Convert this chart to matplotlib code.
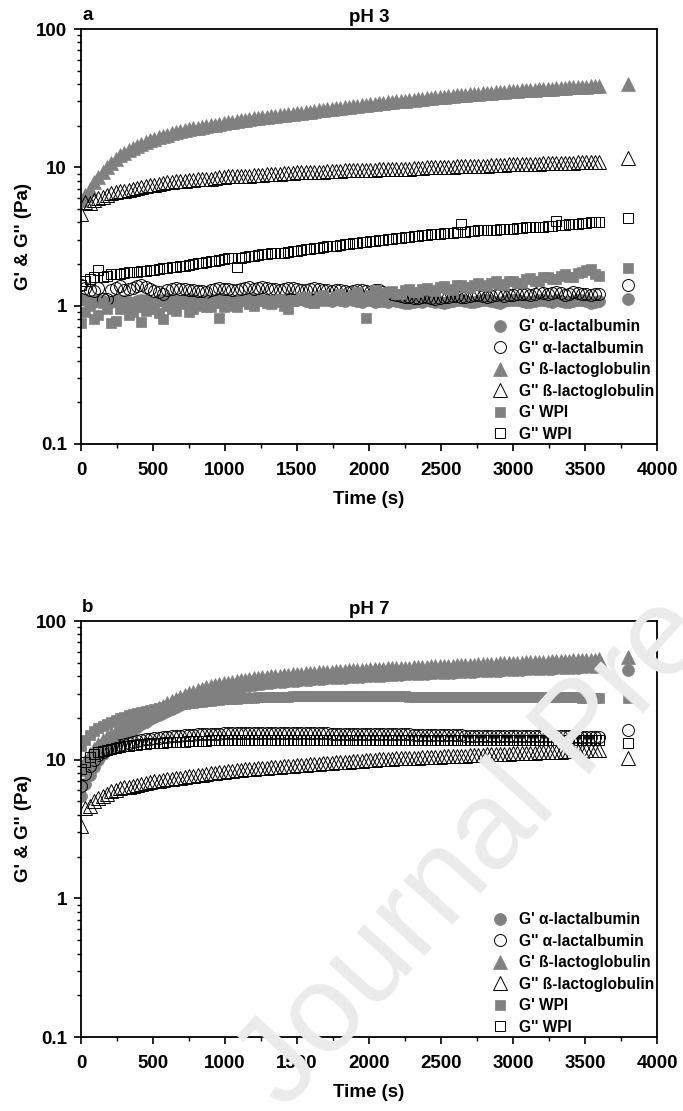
import matplotlib
matplotlib.use('Agg')
import matplotlib.pyplot as plt
from matplotlib.ticker import MultipleLocator, FixedLocator, FixedFormatter, LogLocator, NullFormatter

plt.rcParams['font.family'] = ['Liberation Sans', 'DejaVu Sans']
plt.rcParams['font.weight'] = 'bold'

# ---------------- data ----------------
time_s = [0, 30, 60, 90, 120, 150, 180, 210, 240, 270,
          300, 330, 360, 390, 420, 450, 480, 510, 540, 570,
          600, 630, 660, 690, 720, 750, 780, 810, 840, 870,
          900, 930, 960, 990, 1020, 1050, 1080, 1110, 1140, 1170,
          1200, 1230, 1260, 1290, 1320, 1350, 1380, 1410, 1440, 1470,
          1500, 1530, 1560, 1590, 1620, 1650, 1680, 1710, 1740, 1770,
          1800, 1830, 1860, 1890, 1920, 1950, 1980, 2010, 2040, 2070,
          2100, 2130, 2160, 2190, 2220, 2250, 2280, 2310, 2340, 2370,
          2400, 2430, 2460, 2490, 2520, 2550, 2580, 2610, 2640, 2670,
          2700, 2730, 2760, 2790, 2820, 2850, 2880, 2910, 2940, 2970,
          3000, 3030, 3060, 3090, 3120, 3150, 3180, 3210, 3240, 3270,
          3300, 3330, 3360, 3390, 3420, 3450, 3480, 3510, 3540, 3570,
          3600]
end_time = 3800

series_labels = ["G' α-lactalbumin", "G'' α-lactalbumin", "G' ß-lactoglobulin",
                 "G'' ß-lactoglobulin", "G' WPI", "G'' WPI"]

# ---- pH 3 (panel a) ----
a_Gp_alac = [1.12, 1.10, 1.08, 1.06, 1.10, 1.08, 1.05, 1.07, 1.10, 1.08,
             1.08, 1.06, 1.05, 1.08, 1.10, 1.09, 1.07, 1.05, 1.10, 1.08,
             1.12, 1.10, 1.08, 1.06, 1.10, 1.12, 1.09, 1.07, 1.08, 1.10,
             1.10, 1.08, 1.12, 1.10, 1.10, 1.07, 1.08, 1.10, 1.10, 1.12,
             1.12, 1.10, 1.10, 1.08, 1.08, 1.06, 1.10, 1.09, 1.12, 1.10,
             1.10, 1.12, 1.08, 1.06, 1.12, 1.10, 1.10, 1.09, 1.08, 1.11,
             1.10, 1.08, 1.12, 1.10, 1.08, 1.07, 1.10, 1.09, 1.06, 1.08,
             1.08, 1.06, 1.10, 1.08, 1.07, 1.05, 1.05, 1.07, 1.08, 1.06,
             1.10, 1.08, 1.07, 1.06, 1.05, 1.07, 1.08, 1.10, 1.10, 1.08,
             1.06, 1.07, 1.08, 1.09, 1.10, 1.08, 1.07, 1.05, 1.08, 1.10,
             1.10, 1.09, 1.08, 1.07, 1.06, 1.08, 1.10, 1.09, 1.08, 1.07,
             1.10, 1.08, 1.07, 1.06, 1.08, 1.10, 1.09, 1.08, 1.05, 1.06,
             1.08]
a_Gpp_alac = [1.40, 1.35, 1.30, 1.28, 1.35, 1.12, 1.12, 1.30, 1.35, 1.38,
              1.30, 1.32, 1.35, 1.38, 1.40, 1.36, 1.32, 1.28, 1.25, 1.22,
              1.30, 1.32, 1.35, 1.33, 1.32, 1.30, 1.30, 1.28, 1.28, 1.25,
              1.30, 1.32, 1.35, 1.33, 1.32, 1.30, 1.30, 1.33, 1.35, 1.36,
              1.32, 1.34, 1.36, 1.35, 1.33, 1.31, 1.30, 1.32, 1.35, 1.34,
              1.32, 1.30, 1.30, 1.32, 1.34, 1.32, 1.30, 1.29, 1.28, 1.30,
              1.30, 1.28, 1.26, 1.28, 1.30, 1.30, 1.28, 1.26, 1.30, 1.29,
              1.25, 1.23, 1.22, 1.20, 1.18, 1.15, 1.15, 1.13, 1.13, 1.15,
              1.15, 1.14, 1.12, 1.13, 1.15, 1.16, 1.18, 1.17, 1.15, 1.16,
              1.18, 1.19, 1.20, 1.18, 1.15, 1.17, 1.20, 1.21, 1.18, 1.20,
              1.20, 1.21, 1.22, 1.21, 1.20, 1.22, 1.25, 1.23, 1.22, 1.24,
              1.25, 1.23, 1.20, 1.22, 1.25, 1.24, 1.22, 1.21, 1.20, 1.21,
              1.22]
a_Gp_blg = [5.8, 6.3, 7.0, 7.8, 8.5, 9.3, 10.0, 10.8, 11.5, 12.2,
            12.8, 13.3, 13.8, 14.3, 14.8, 15.3, 15.7, 16.1, 16.5, 16.9,
            17.2, 17.6, 17.9, 18.2, 18.5, 18.8, 19.1, 19.4, 19.7, 19.9,
            20.2, 20.4, 20.7, 20.9, 21.2, 21.4, 21.7, 21.9, 22.1, 22.4,
            22.6, 22.8, 23.0, 23.2, 23.4, 23.6, 23.8, 24.0, 24.2, 24.4,
            24.6, 24.8, 25.1, 25.3, 25.6, 25.8, 26.0, 26.2, 26.5, 26.7,
            27.0, 27.2, 27.4, 27.6, 27.9, 28.1, 28.3, 28.5, 28.8, 29.0,
            29.3, 29.5, 29.8, 30.0, 30.2, 30.4, 30.7, 30.9, 31.1, 31.3,
            31.6, 31.8, 32.0, 32.2, 32.5, 32.7, 32.9, 33.1, 33.3, 33.5,
            33.7, 33.9, 34.1, 34.3, 34.5, 34.7, 34.9, 35.1, 35.3, 35.5,
            35.7, 35.8, 36.0, 36.1, 36.3, 36.5, 36.7, 36.8, 37.0, 37.1,
            37.3, 37.5, 37.7, 37.8, 38.0, 38.1, 38.3, 38.4, 38.6, 38.7,
            38.9]
a_Gpp_blg = [4.6, 5.6, 5.5, 5.8, 6.0, 6.1, 6.3, 6.5, 6.6, 6.7,
             6.8, 6.9, 7.0, 7.1, 7.2, 7.3, 7.4, 7.5, 7.6, 7.7,
             7.8, 7.8, 7.9, 8.0, 8.0, 8.1, 8.1, 8.2, 8.2, 8.3,
             8.3, 8.4, 8.5, 8.5, 8.6, 8.6, 8.6, 8.7, 8.7, 8.7,
             8.8, 8.8, 8.8, 8.9, 8.9, 9.0, 9.0, 9.1, 9.1, 9.1,
             9.2, 9.2, 9.2, 9.3, 9.3, 9.3, 9.3, 9.4, 9.4, 9.4,
             9.4, 9.5, 9.5, 9.5, 9.5, 9.6, 9.6, 9.6, 9.6, 9.7,
             9.7, 9.7, 9.7, 9.8, 9.8, 9.8, 9.8, 9.9, 9.9, 9.9,
             10.0, 10.0, 10.0, 10.0, 10.1, 10.1, 10.1, 10.2, 10.2, 10.2,
             10.2, 10.3, 10.3, 10.3, 10.3, 10.4, 10.4, 10.4, 10.4, 10.5,
             10.5, 10.5, 10.5, 10.6, 10.6, 10.6, 10.6, 10.7, 10.7, 10.7,
             10.7, 10.8, 10.8, 10.8, 10.8, 10.9, 10.9, 10.9, 10.9, 11.0,
             11.0]
a_Gp_wpi = [0.75, 0.90, 1.00, 0.80, 0.85, 1.05, 0.95, 0.75, 0.78, 0.95,
            1.00, 0.85, 0.90, 0.98, 0.76, 0.92, 0.95, 1.02, 0.88, 0.80,
            1.00, 0.95, 0.92, 1.05, 1.02, 0.90, 0.95, 1.00, 1.05, 0.98,
            0.97, 1.05, 0.82, 0.98, 1.05, 1.00, 0.98, 1.08, 1.08, 1.02,
            1.00, 1.08, 1.10, 1.04, 1.03, 1.10, 1.12, 1.00, 0.95, 1.08,
            1.10, 1.14, 1.15, 1.08, 1.05, 1.15, 1.20, 1.12, 1.10, 1.18,
            1.22, 1.15, 1.12, 1.20, 1.25, 1.15, 0.82, 1.20, 1.30, 1.24,
            1.20, 1.26, 1.28, 1.22, 1.22, 1.30, 1.32, 1.26, 1.25, 1.32,
            1.35, 1.30, 1.28, 1.36, 1.38, 1.32, 1.30, 1.40, 1.42, 1.36,
            1.35, 1.42, 1.45, 1.40, 1.38, 1.46, 1.50, 1.44, 1.42, 1.50,
            1.52, 1.46, 1.45, 1.55, 1.58, 1.52, 1.50, 1.60, 1.62, 1.56,
            1.55, 1.65, 1.70, 1.62, 1.60, 1.72, 1.75, 1.80, 1.85, 1.70,
            1.65]
a_Gpp_wpi = [1.40, 1.50, 1.55, 1.60, 1.80, 1.62, 1.65, 1.68, 1.70, 1.70,
             1.72, 1.74, 1.75, 1.76, 1.78, 1.79, 1.80, 1.82, 1.85, 1.86,
             1.88, 1.89, 1.90, 1.92, 1.95, 1.97, 2.00, 2.02, 2.05, 2.08,
             2.10, 2.12, 2.15, 2.18, 2.20, 2.20, 1.90, 2.22, 2.25, 2.28,
             2.30, 2.32, 2.35, 2.38, 2.40, 2.40, 2.40, 2.42, 2.45, 2.48,
             2.50, 2.52, 2.55, 2.58, 2.60, 2.62, 2.65, 2.68, 2.70, 2.72,
             2.75, 2.78, 2.80, 2.82, 2.85, 2.88, 2.90, 2.92, 2.95, 2.98,
             3.00, 3.02, 3.05, 3.08, 3.10, 3.12, 3.15, 3.18, 3.20, 3.22,
             3.25, 3.28, 3.30, 3.32, 3.35, 3.35, 3.35, 3.38, 3.90, 3.42,
             3.45, 3.48, 3.50, 3.50, 3.50, 3.52, 3.55, 3.58, 3.60, 3.60,
             3.60, 3.62, 3.65, 3.68, 3.70, 3.70, 3.70, 3.72, 3.75, 3.78,
             4.10, 3.82, 3.85, 3.88, 3.90, 3.92, 3.95, 3.98, 4.00, 4.02,
             4.05]
a_end_values = [1.12, 1.41, 40.0, 11.7, 1.87, 4.3]

# ---- pH 7 (panel b) ----
b_Gp_alac = [5.5, 6.7, 7.8, 8.9, 10.0, 11.0, 12.0, 12.8, 13.5, 14.3,
             15.0, 15.8, 16.5, 17.3, 18.0, 18.8, 19.5, 20.3, 21.0, 21.8,
             22.5, 23.3, 24.0, 24.8, 25.5, 26.3, 27.0, 27.8, 28.5, 29.2,
             29.8, 30.4, 31.0, 31.5, 32.0, 32.5, 33.0, 33.4, 33.8, 34.2,
             34.5, 34.9, 35.2, 35.5, 35.8, 36.1, 36.3, 36.6, 36.8, 37.0,
             37.2, 37.4, 37.6, 37.8, 38.0, 38.2, 38.3, 38.5, 38.6, 38.8,
             38.9, 39.1, 39.2, 39.4, 39.5, 39.7, 39.8, 40.0, 40.1, 40.3,
             40.4, 40.6, 40.7, 40.9, 41.0, 41.2, 41.3, 41.4, 41.5, 41.7,
             41.8, 41.9, 42.0, 42.2, 42.3, 42.4, 42.5, 42.7, 42.8, 42.9,
             43.0, 43.2, 43.3, 43.4, 43.5, 43.7, 43.8, 43.9, 44.0, 44.2,
             44.3, 44.4, 44.5, 44.7, 44.8, 44.9, 45.0, 45.2, 45.3, 45.4,
             45.5, 45.7, 45.8, 45.9, 46.0, 46.2, 46.3, 46.4, 46.5, 46.7,
             46.8]
b_Gpp_alac = [6.5, 7.9, 9.0, 10.0, 10.8, 11.3, 11.8, 12.2, 12.5, 12.8,
              13.0, 13.2, 13.4, 13.6, 13.8, 14.0, 14.1, 14.3, 14.4, 14.5,
              14.6, 14.7, 14.8, 14.9, 15.0, 15.0, 15.1, 15.2, 15.2, 15.3,
              15.3, 15.4, 15.4, 15.5, 15.5, 15.5, 15.5, 15.5, 15.5, 15.6,
              15.6, 15.6, 15.6, 15.6, 15.6, 15.6, 15.6, 15.6, 15.5, 15.5,
              15.5, 15.5, 15.5, 15.5, 15.5, 15.5, 15.5, 15.5, 15.4, 15.4,
              15.4, 15.4, 15.4, 15.4, 15.4, 15.3, 15.3, 15.3, 15.3, 15.3,
              15.3, 15.3, 15.2, 15.2, 15.2, 15.2, 15.2, 15.1, 15.1, 15.1,
              15.1, 15.1, 15.1, 15.0, 15.0, 15.0, 15.0, 15.0, 15.0, 14.9,
              14.9, 14.9, 14.9, 14.9, 14.9, 14.9, 14.9, 14.8, 14.8, 14.8,
              14.8, 14.8, 14.8, 14.8, 14.8, 14.7, 14.7, 14.7, 14.7, 14.7,
              14.7, 14.7, 14.7, 14.7, 14.6, 14.6, 14.6, 14.6, 14.6, 14.6,
              14.6]
b_Gp_blg = [8.5, 9.8, 11.0, 12.0, 13.0, 13.8, 14.5, 15.3, 16.0, 16.8,
            17.5, 18.3, 19.0, 19.8, 20.5, 21.3, 22.0, 22.8, 23.5, 24.5,
            25.5, 26.5, 27.5, 28.5, 29.5, 30.3, 31.0, 31.8, 32.5, 33.3,
            34.0, 34.5, 35.0, 35.5, 36.0, 36.5, 37.0, 37.4, 37.8, 38.2,
            38.5, 38.9, 39.2, 39.5, 39.8, 40.1, 40.4, 40.7, 41.0, 41.3,
            41.5, 41.8, 42.0, 42.2, 42.4, 42.6, 42.8, 43.0, 43.2, 43.4,
            43.6, 43.8, 44.0, 44.2, 44.3, 44.5, 44.6, 44.8, 45.0, 45.2,
            45.3, 45.5, 45.6, 45.8, 45.9, 46.1, 46.2, 46.4, 46.5, 46.7,
            46.8, 47.0, 47.1, 47.3, 47.4, 47.6, 47.7, 47.9, 48.0, 48.2,
            48.3, 48.5, 48.6, 48.8, 48.9, 49.1, 49.2, 49.4, 49.5, 49.7,
            49.8, 50.0, 50.1, 50.3, 50.4, 50.6, 50.7, 50.9, 51.0, 51.2,
            51.3, 51.5, 51.6, 51.8, 51.9, 52.1, 52.2, 52.4, 52.5, 52.7,
            52.8]
b_Gpp_blg = [3.3, 4.5, 4.6, 5.0, 5.3, 5.5, 5.7, 5.9, 6.0, 6.2,
             6.3, 6.4, 6.5, 6.6, 6.7, 6.8, 6.9, 7.0, 7.05, 7.1,
             7.2, 7.3, 7.35, 7.4, 7.5, 7.6, 7.65, 7.7, 7.8, 7.9,
             7.95, 8.0, 8.1, 8.2, 8.25, 8.3, 8.4, 8.45, 8.5, 8.55,
             8.6, 8.65, 8.7, 8.75, 8.8, 8.85, 8.9, 8.95, 9.0, 9.05,
             9.1, 9.15, 9.2, 9.25, 9.3, 9.35, 9.4, 9.45, 9.5, 9.55,
             9.6, 9.65, 9.7, 9.75, 9.8, 9.85, 9.9, 9.95, 10.0, 10.05,
             10.1, 10.1, 10.15, 10.2, 10.2, 10.25, 10.3, 10.3, 10.35, 10.4,
             10.4, 10.45, 10.5, 10.5, 10.55, 10.6, 10.6, 10.65, 10.7, 10.7,
             10.75, 10.8, 10.8, 10.85, 10.9, 10.9, 10.95, 11.0, 11.0, 11.05,
             11.1, 11.1, 11.15, 11.2, 11.2, 11.25, 11.3, 11.3, 11.35, 11.4,
             11.4, 11.45, 11.5, 11.5, 11.55, 11.6, 11.6, 11.65, 11.7, 11.75,
             11.8]
b_Gp_wpi = [12.5, 13.8, 15.0, 16.0, 16.8, 17.5, 18.2, 18.8, 19.4, 19.9,
            20.4, 20.9, 21.3, 21.7, 22.1, 22.5, 22.9, 23.3, 23.6, 23.9,
            24.2, 24.5, 24.8, 25.1, 25.3, 25.6, 25.8, 26.0, 26.2, 26.4,
            26.6, 26.8, 27.0, 27.2, 27.3, 27.5, 27.6, 27.7, 27.8, 27.9,
            28.0, 28.1, 28.2, 28.3, 28.3, 28.4, 28.4, 28.5, 28.5, 28.6,
            28.6, 28.6, 28.6, 28.7, 28.7, 28.7, 28.7, 28.7, 28.7, 28.7,
            28.7, 28.7, 28.7, 28.7, 28.7, 28.7, 28.7, 28.7, 28.6, 28.6,
            28.6, 28.6, 28.6, 28.6, 28.6, 28.6, 28.5, 28.5, 28.5, 28.5,
            28.5, 28.5, 28.5, 28.5, 28.4, 28.4, 28.4, 28.4, 28.4, 28.4,
            28.4, 28.4, 28.3, 28.3, 28.3, 28.3, 28.3, 28.3, 28.3, 28.3,
            28.2, 28.2, 28.2, 28.2, 28.2, 28.2, 28.2, 28.2, 28.1, 28.1,
            28.1, 28.1, 28.1, 28.1, 28.1, 28.1, 28.0, 28.0, 28.0, 28.0,
            28.0]
b_Gpp_wpi = [8.5, 9.6, 10.5, 11.0, 11.3, 11.6, 11.8, 12.0, 12.2, 12.4,
             12.5, 12.6, 12.7, 12.8, 12.9, 13.0, 13.1, 13.15, 13.2, 13.25,
             13.3, 13.35, 13.4, 13.45, 13.5, 13.55, 13.6, 13.65, 13.7, 13.7,
             13.75, 13.75, 13.8, 13.8, 13.8, 13.8, 13.85, 13.85, 13.85, 13.85,
             13.9, 13.9, 13.9, 13.9, 13.9, 13.9, 13.9, 13.9, 13.9, 13.9,
             13.9, 13.9, 13.9, 13.9, 13.9, 13.9, 13.9, 13.9, 13.9, 13.9,
             13.9, 13.9, 13.9, 13.9, 13.9, 13.9, 13.9, 13.9, 13.9, 13.9,
             13.9, 13.9, 13.9, 13.9, 13.85, 13.85, 13.85, 13.85, 13.85, 13.85,
             13.85, 13.85, 13.85, 13.85, 13.8, 13.8, 13.8, 13.8, 13.8, 13.8,
             13.8, 13.8, 13.8, 13.8, 13.8, 13.8, 13.8, 13.8, 13.8, 13.8,
             13.8, 13.8, 13.8, 13.8, 13.8, 13.8, 13.8, 13.8, 13.75, 13.75,
             13.75, 13.75, 13.75, 13.75, 13.75, 13.75, 13.75, 13.75, 13.75, 13.75,
             13.75]
b_end_values = [44.4, 16.4, 55.0, 10.3, 27.9, 13.2]

x_ticks = [0, 500, 1000, 1500, 2000, 2500, 3000, 3500, 4000]
y_ticks = [0.1, 1, 10, 100]
y_tick_labels = ['0.1', '1', '10', '100']

# ---------------- styling ----------------
GREY = '#808080'
styles = [('o', True, 8.6), ('o', False, 8.6), ('^', True, 10.0),
          ('^', False, 10.0), ('s', True, 7.8), ('s', False, 7.8)]


def style_kw(marker, filled, ms):
    if filled:
        return dict(marker=marker, ms=ms, mfc=GREY, mec=GREY, mew=0.5, ls='none')
    return dict(marker=marker, ms=ms, mfc='none', mec='black', mew=0.7, ls='none')


fig = plt.figure(figsize=(6.83, 11.11), dpi=100)

# watermark
fig.text(285 / 683, 1 - 1112 / 1111, 'Journal Pre-proof', fontsize=90, color='#ebebeb',
         rotation=48, rotation_mode='anchor', ha='left', va='baseline',
         fontweight='normal', zorder=0)

ax_a = fig.add_axes([81 / 683, 1 - 444 / 1111, 576 / 683, 415 / 1111])
ax_b = fig.add_axes([81 / 683, 1 - 1037 / 1111, 576 / 683, 416 / 1111])

panels = [
    (ax_a, 'a', 'pH 3', [a_Gp_alac, a_Gpp_alac, a_Gp_blg, a_Gpp_blg, a_Gp_wpi, a_Gpp_wpi], a_end_values),
    (ax_b, 'b', 'pH 7', [b_Gp_alac, b_Gpp_alac, b_Gp_blg, b_Gpp_blg, b_Gp_wpi, b_Gpp_wpi], b_end_values),
]

for ax, letter, title, data, ends in panels:
    ax.patch.set_alpha(0)
    handles = []
    for (marker, filled, ms), vals, endv, lab in zip(styles, data, ends, series_labels):
        kw = style_kw(marker, filled, ms)
        h, = ax.plot(time_s, vals, label=lab, **kw)
        ax.plot([end_time], [endv], **kw)
        handles.append(h)

    ax.set_yscale('log')
    ax.set_ylim(0.1, 100)
    ax.set_xlim(0, 4000)
    ax.xaxis.set_major_locator(FixedLocator(x_ticks))
    ax.xaxis.set_minor_locator(MultipleLocator(250))
    ax.yaxis.set_major_locator(FixedLocator(y_ticks))
    ax.yaxis.set_major_formatter(FixedFormatter(y_tick_labels))
    ax.yaxis.set_minor_locator(LogLocator(base=10, subs=range(2, 10)))
    ax.yaxis.set_minor_formatter(NullFormatter())
    ax.tick_params(which='major', direction='out', length=5, width=1.2,
                   labelsize=13.5, top=False, right=False)
    ax.tick_params(axis='x', which='major', pad=8)
    ax.tick_params(axis='y', which='major', pad=5)
    ax.tick_params(which='minor', direction='out', length=3, width=1.0,
                   top=False, right=False)
    for lbl in ax.get_xticklabels() + ax.get_yticklabels():
        lbl.set_fontweight('bold')
    for sp in ax.spines.values():
        sp.set_linewidth(1.3)

    ax.set_xlabel('Time (s)', fontsize=13.5, fontweight='bold', labelpad=8.5)
    ax.set_ylabel("G' & G'' (Pa)", fontsize=13.5, fontweight='bold', labelpad=3)
    ax.set_title(title, fontsize=13.5, fontweight='bold', pad=5)
    ax.text(0.002, 1.012, letter, transform=ax.transAxes, fontsize=13.5,
            fontweight='bold', ha='left', va='bottom')

    ax.legend(handles=handles, loc='lower right', bbox_to_anchor=(1.0, 0.0),
              frameon=False, prop={'size': 11.2, 'weight': 'bold'},
              handlelength=1.0, handletextpad=0.75, labelspacing=0.42,
              borderaxespad=0.0, borderpad=0.15, numpoints=1)

fig.savefig('out.png', dpi=100)
